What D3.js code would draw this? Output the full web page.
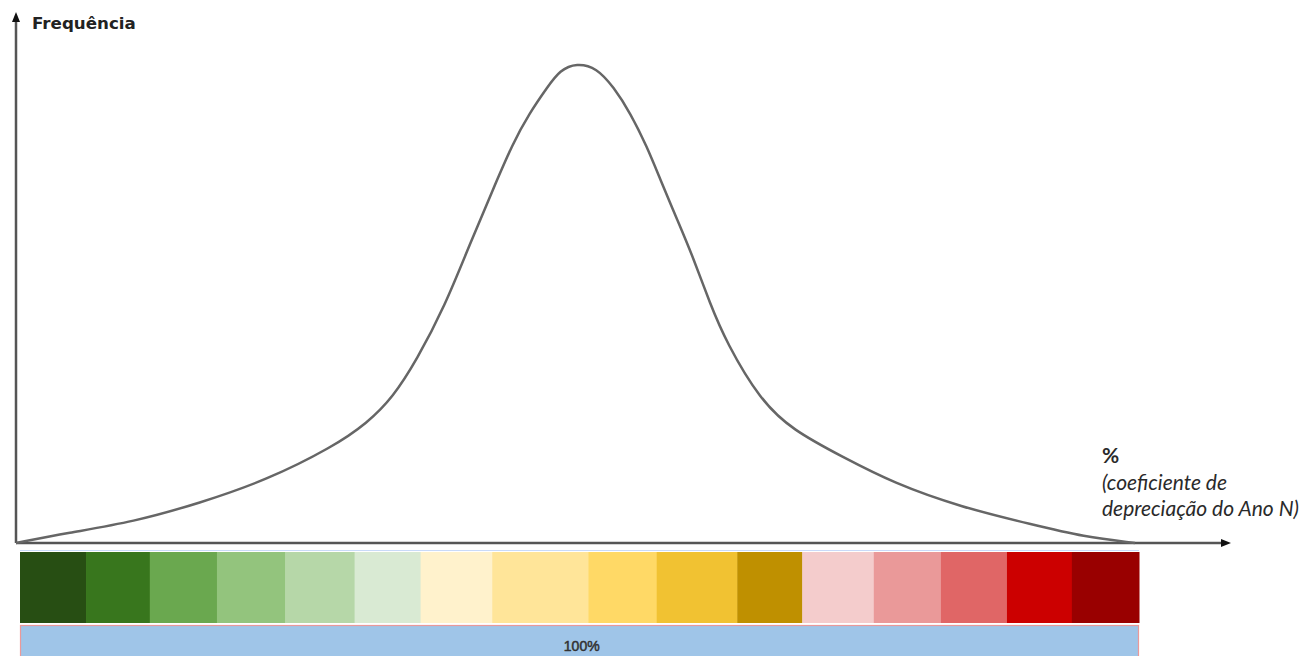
<!DOCTYPE html>
<html>
<head>
<meta charset="utf-8">
<script src="https://cdn.jsdelivr.net/npm/d3@7"></script>
<style>
  body { margin: 0; background: #fff; }
  svg { display: block; }
</style>
</head>
<body>
<div id="chartDiv"></div>
<script>
// curve: x in % of the axis length, y in % of the peak
const curveX = [0, 4.6, 10.5, 16.4, 22.4, 28.3, 31.4, 33.7, 35.8, 38.3, 40.6, 42.6, 44.4, 45.9, 47.5, 48.6, 50.1, 51.9, 53.4, 54.9, 56.4, 57.6, 59.1, 60.5, 62.0, 63.5, 66.5, 69.4, 73.9, 78.4, 84.4, 90.9, 95.4, 100];
const curveY = [0, 2.1, 4.4, 8.3, 13.1, 20.0, 25.0, 30.4, 38.1, 49.2, 62.5, 73.5, 83.3, 89.6, 95.0, 98.5, 100, 99.0, 95.0, 89.6, 82.5, 75.6, 67.3, 59.6, 50.0, 41.7, 29.8, 23.5, 17.9, 12.5, 7.5, 3.8, 1.3, 0];

// colour band edges (% of band width) and colours
const bandEdges = [0, 5.9, 11.6, 17.6, 23.7, 29.9, 35.8, 42.2, 50.8, 56.9, 64.1, 69.9, 76.3, 82.3, 88.2, 94.0, 100];
const bandColors = ['#274e13', '#38761d', '#6aa84f', '#93c47d', '#b6d7a8', '#d9ead3', '#fff2cc', '#ffe599',
                    '#ffd966', '#f1c232', '#bf9000', '#f4cccc', '#ea9999', '#e06666', '#cc0000', '#990000'];
const totalLabel = '100%';

const yLabel = 'Frequência';
const xLabel = ['%', '(coeficiente de', 'depreciação do Ano N)'];

var displayChart = function(){
	const canvasW = 1306;
	const canvasH = 656;
	const svg = d3.select('#chartDiv')
		.append('svg')
		.attr('width', canvasW)
		.attr('height', canvasH);

	const origin = {x: 16, y: 543};

	//scales
	const x = d3.scaleLinear().domain([0, 100]).range([origin.x, 1135]);
	const y = d3.scaleLinear().domain([0, 100]).range([origin.y, 63]);
	const xb = d3.scaleLinear().domain([0, 100]).range([20, 1139]);

	const defs = svg.append('defs');
	defs.append('marker')
		.attr('id', 'arrow')
		.attr('viewBox', '0 0 10 10')
		.attr('refX', 5).attr('refY', 5)
		.attr('markerWidth', 4).attr('markerHeight', 4)
		.attr('orient', 'auto')
		.append('path')
		.attr('d', 'M0,1 L10,5 L0,9 Z')
		.attr('fill', '#111');

	// colour band
	const bands = d3.range(bandColors.length).map(i => ({x0: bandEdges[i], x1: bandEdges[i + 1], c: bandColors[i]}));
	svg.append('line')
		.attr('x1', xb(0)).attr('x2', xb(100))
		.attr('y1', 550.5).attr('y2', 550.5)
		.attr('stroke', '#c9daf8').attr('stroke-width', 1);
	svg.append('g').selectAll('rect')
		.data(bands)
		.enter()
		.append('rect')
		.attr('x', d => xb(d.x0))
		.attr('width', d => xb(d.x1) - xb(d.x0) + 0.5)
		.attr('y', 552)
		.attr('height', 71)
		.attr('fill', d => d.c);

	// 100% bar
	svg.append('rect')
		.attr('x', xb(0) + 0.5)
		.attr('y', 625.5)
		.attr('width', xb(100) - xb(0) - 1)
		.attr('height', 40)
		.attr('fill', '#9fc5e8')
		.attr('stroke', '#ea9999')
		.attr('stroke-width', 1.2);
	svg.append('text')
		.attr('x', xb(50.2))
		.attr('y', 651)
		.attr('text-anchor', 'middle')
		.attr('font-family', 'Liberation Sans, Arial, sans-serif')
		.attr('font-size', 14)
		.attr('fill', '#333')
		.attr('stroke', '#333').attr('stroke-width', 0.5)
		.text(totalLabel);

	// axes
	svg.append('line')
		.attr('x1', origin.x).attr('y1', origin.y)
		.attr('x2', 1226).attr('y2', origin.y)
		.attr('stroke', '#555').attr('stroke-width', 2.5)
		.attr('marker-end', 'url(#arrow)');
	svg.append('line')
		.attr('x1', origin.x).attr('y1', origin.y)
		.attr('x2', origin.x).attr('y2', 17)
		.attr('stroke', '#555').attr('stroke-width', 2.5)
		.attr('marker-end', 'url(#arrow)');

	// curve
	const pts = curveX.map((d, i) => [d, curveY[i]]);
	const line = d3.line()
		.x(d => x(d[0]))
		.y(d => y(d[1]))
		.curve(d3.curveBasis);
	svg.append('path')
		.datum(pts)
		.attr('d', line)
		.attr('fill', 'none')
		.attr('stroke', '#666')
		.attr('stroke-width', 2.5);

	// labels
	svg.append('text')
		.attr('x', 32).attr('y', 29)
		.attr('font-family', 'DejaVu Sans, sans-serif')
		.attr('font-weight', 'bold')
		.attr('font-size', 16.7)
		.attr('fill', '#222')
		.text(yLabel);

	const xl = svg.append('text')
		.attr('font-family', 'Lato, sans-serif')
		.attr('font-size', 21)
		.attr('fill', '#2a2a2a');
	xl.selectAll('tspan')
		.data(xLabel)
		.enter()
		.append('tspan')
		.attr('x', 1102)
		.attr('y', (d, i) => 463 + i * 26.5)
		.attr('font-weight', (d, i) => i == 0 ? 'bold' : 'normal')
		.attr('font-style', (d, i) => i == 0 ? 'normal' : 'italic')
		.text(d => d);
};

displayChart();
</script>
</body>
</html>
